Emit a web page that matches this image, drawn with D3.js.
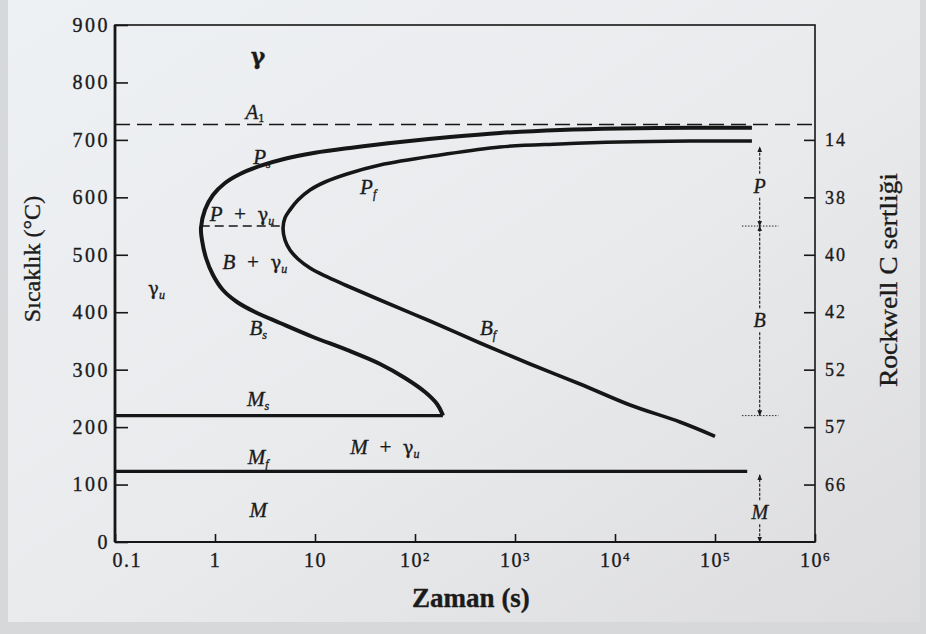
<!DOCTYPE html>
<html>
<head>
<meta charset="utf-8">
<script src="https://cdn.jsdelivr.net/npm/d3@7"></script>
<style>
  body { margin: 0; background: #e3e5e7; }
  svg { display: block; }
  text { font-family: "Liberation Serif", "DejaVu Serif", serif; fill: #1b1b1b;
         stroke: #1b1b1b; stroke-width: 0.35px; }
</style>
</head>
<body>
<svg id="chart" width="926" height="634"></svg>
<script>
// ---- data -------------------------------------------------------------
// time axis (s, logarithmic)
const timeTicks = [0.1, 1, 10, 100, 1e3, 1e4, 1e5, 1e6];
const timeTickLabels = [["0.1"], ["1"], ["10"], ["10", "2"], ["10", "3"], ["10", "4"], ["10", "5"], ["10", "6"]];
// temperature axis (°C)
const tempTicks = [0, 100, 200, 300, 400, 500, 600, 700, 800, 900];
// Rockwell C hardness of the product formed at each temperature
const hardnessTemps = [700, 600, 500, 400, 300, 200, 100];
const hardnessLabels = ["14", "38", "40", "42", "52", "57", "66"];

// transformation start curve (Ps -> nose -> Bs), [time s, temperature °C]
const startCurve = [
  [2.34e5, 721], [56234, 721], [11220, 720], [2818, 717.3], [708, 712], [224, 705],
  [70.8, 696.4], [22.4, 686], [10, 677.6], [5.01, 667.2], [2.82, 654.6], [1.78, 640.7],
  [1.26, 625], [0.955, 604], [0.794, 578.3], [0.724, 546.7],
  [0.741, 525.8], [0.813, 494.4], [0.955, 464.8], [1.2, 438.7], [1.66, 417.8],
  [2.51, 400.4], [4.47, 381.3], [9.55, 356.9], [20.9, 334.3], [44.7, 309.9],
  [79.4, 285.5], [126, 261.1], [166, 240.3], [186, 224.6], [190, 220]
];
// transformation finish curve (Pf -> nose -> Bf)
const finishCurve = [
  [2.34e5, 698.1], [56234, 698], [11220, 696.4], [2818, 692.9], [708, 687.7], [178, 673.7],
  [44.7, 656.3], [20.9, 640.7], [12.6, 626.7], [8.91, 612.8], [6.76, 595.4], [5.62, 578.2],
  [5.01, 564.1], [4.79, 546.7],
  [5.01, 525.8], [5.62, 508.4], [6.76, 492.7], [8.91, 477], [12.6, 463.1], [20, 447.4],
  [44.7, 421.3], [141, 384.7], [447, 346.4], [1413, 309.9], [4467, 275.1], [14125, 238.5],
  [44668, 208.9], [1.0e5, 184]
];
// characteristic temperatures
const A1 = 727, Ms = 220, Mf = 123, noseTemp = 550;
const msLine = [[0.1, Ms], [190, Ms]];
const mfLine = [[0.1, Mf], [2.1e5, Mf]];
const a1Line = [[0.1, A1], [1e6, A1]];
const noseLine = [[0.72, noseTemp], [4.8, noseTemp]];

// product ranges shown beside the curves
const rangeTime = 2.8e5;
const productRanges = [
  { name: "P", from: 688, to: noseTemp, at: 620 },
  { name: "B", from: noseTemp, to: Ms, at: 386 },
  { name: "M", from: 117, to: 0, at: 52 }
];
const rangeMarks = [noseTemp, Ms];

// region labels: [time, temperature, text, subscript]
const regionLabels = [
  [2.7, 844, "γ", ""],
  [2.5, 749, "A", "1"],
  [2.95, 670, "P", "s"],
  [34, 618, "P", "f"],
  [1.86, 571, "P + γ", "u"],
  [2.5, 487, "B + γ", "u"],
  [0.26, 442, "γ", "u"],
  [2.7, 372, "B", "s"],
  [537, 372, "B", "f"],
  [2.7, 249, "M", "s"],
  [50, 165, "M + γ", "u"],
  [2.7, 148, "M", "f"],
  [2.7, 56, "M", ""]
];

// ---- layout -----------------------------------------------------------
const svg = d3.select("#chart");
const W = 926, H = 634;
const plot = { left: 115, right: 815, top: 25, bottom: 542 };
const serif = "'Liberation Serif', 'DejaVu Serif', serif";

const x = d3.scaleLog().domain([0.1, 1e6]).range([plot.left, plot.right]);
const y = d3.scaleLinear().domain([0, 900]).range([plot.bottom, plot.top]);

// paper background
const defs = svg.append("defs");
const grad = defs.append("linearGradient").attr("id", "paper")
  .attr("x1", "0").attr("y1", "0").attr("x2", "1").attr("y2", "1");
grad.append("stop").attr("offset", "0").attr("stop-color", "#eef1f4");
grad.append("stop").attr("offset", "0.55").attr("stop-color", "#e9eaec");
grad.append("stop").attr("offset", "1").attr("stop-color", "#dcdcde");
svg.append("rect").attr("width", W).attr("height", H).attr("fill", "#d6d8da");
svg.append("rect").attr("x", 8).attr("y", 0).attr("width", W - 14).attr("height", H - 12)
  .attr("fill", "url(#paper)");

defs.append("marker").attr("id", "arrow")
  .attr("viewBox", "0 0 10 10").attr("refX", 9).attr("refY", 5)
  .attr("markerWidth", 6).attr("markerHeight", 9).attr("orient", "auto-start-reverse")
  .attr("markerUnits", "userSpaceOnUse")
  .append("path").attr("d", "M0,1 L10,5 L0,9 Z").attr("fill", "#1b1b1b");

const ink = "#161616";
const line = d3.line().x(d => x(d[0])).y(d => y(d[1]));
const smooth = d3.line().x(d => x(d[0])).y(d => y(d[1])).curve(d3.curveCatmullRom.alpha(0.5));

// ---- axes -------------------------------------------------------------
const leftAxis = svg.append("g").attr("transform", `translate(${plot.left},0)`)
  .call(d3.axisLeft(y).tickValues(tempTicks).tickSize(-13).tickPadding(5).tickFormat(d3.format("d")));
leftAxis.selectAll("text").style("font-size", "20px").style("letter-spacing", "2.5px");

const bottomAxis = svg.append("g").attr("transform", `translate(0,${plot.bottom})`)
  .call(d3.axisBottom(x).tickValues(timeTicks).tickSize(-8).tickPadding(11).tickFormat(() => ""));
bottomAxis.selectAll(".tick text").each(function (d, i) {
  const t = d3.select(this).style("font-size", "20px").style("letter-spacing", "1.5px");
  const parts = timeTickLabels[i];
  t.append("tspan").text(parts[0]);
  if (parts[1]) t.append("tspan").attr("dy", "-0.45em").style("font-size", "13px").text(parts[1]);
  if (i === 0) t.attr("text-anchor", "start").attr("x", -3);
});

const rightAxis = svg.append("g").attr("transform", `translate(${plot.right},0)`)
  .call(d3.axisRight(y).tickValues(hardnessTemps).tickSize(-11).tickPadding(10)
    .tickFormat((d, i) => hardnessLabels[i]));
rightAxis.selectAll("text").style("font-size", "18px").style("letter-spacing", "2px");

[leftAxis, bottomAxis, rightAxis].forEach(g => {
  g.attr("font-family", null).attr("font-size", null);
  g.select(".domain").remove();
  g.selectAll(".tick line").attr("stroke", ink).attr("stroke-width", 1.6);
  g.selectAll(".tick text").attr("fill", "#1b1b1b").style("font-family", serif);
});

// frame
svg.append("rect").attr("x", plot.left).attr("y", plot.top)
  .attr("width", plot.right - plot.left).attr("height", plot.bottom - plot.top)
  .attr("fill", "none").attr("stroke", ink).attr("stroke-width", 1.6);
svg.append("line").attr("x1", plot.left).attr("x2", plot.left)
  .attr("y1", plot.top).attr("y2", plot.bottom).attr("stroke", ink).attr("stroke-width", 2.8);
svg.append("line").attr("x1", plot.left).attr("x2", plot.right)
  .attr("y1", plot.bottom).attr("y2", plot.bottom).attr("stroke", ink).attr("stroke-width", 2.2);

// axis titles
svg.append("text").attr("transform", "translate(40,259) rotate(-90)")
  .attr("text-anchor", "middle").style("font-size", "24px").text("Sıcaklık (°C)");
svg.append("text").attr("transform", "translate(897,280) rotate(-90)")
  .attr("text-anchor", "middle").style("font-size", "25px")
  .attr("textLength", 214).attr("lengthAdjust", "spacingAndGlyphs")
  .text("Rockwell C sertliği");
svg.append("text").attr("x", 471).attr("y", 607)
  .attr("text-anchor", "middle").style("font-size", "27px").style("font-weight", "bold")
  .text("Zaman (s)");

// ---- diagram lines ----------------------------------------------------
svg.append("path").attr("d", line(a1Line)).attr("fill", "none")
  .attr("stroke", ink).attr("stroke-width", 1.5).attr("stroke-dasharray", "15,7");
svg.append("path").attr("d", line(noseLine)).attr("fill", "none")
  .attr("stroke", ink).attr("stroke-width", 1.5).attr("stroke-dasharray", "9,5");

svg.append("path").attr("d", smooth(startCurve)).attr("fill", "none")
  .attr("stroke", ink).attr("stroke-width", 4).attr("stroke-linejoin", "round");
svg.append("path").attr("d", smooth(finishCurve)).attr("fill", "none")
  .attr("stroke", ink).attr("stroke-width", 3.6).attr("stroke-linejoin", "round");
svg.append("path").attr("d", line(msLine)).attr("fill", "none")
  .attr("stroke", ink).attr("stroke-width", 3.4);
svg.append("path").attr("d", line(mfLine)).attr("fill", "none")
  .attr("stroke", ink).attr("stroke-width", 3.2);

// product ranges: an arrowed line above and below each italic label
const rx = x(rangeTime);
productRanges.forEach(r => {
  const yl = y(r.at);
  [[yl - 12, y(r.from)], [yl + 12, y(r.to)]].forEach(([a, b]) => {
    svg.append("line").attr("x1", rx).attr("x2", rx).attr("y1", a).attr("y2", b)
      .attr("stroke", ink).attr("stroke-width", 1.1).attr("stroke-dasharray", "3,1.5")
      .attr("marker-end", "url(#arrow)");
  });
  svg.append("text").attr("x", rx).attr("y", yl + 7).attr("text-anchor", "middle")
    .style("font-size", "20px").style("font-style", "italic").text(r.name);
});
rangeMarks.forEach(t => {
  svg.append("line").attr("x1", x(1.86e5)).attr("x2", x(4.3e5))
    .attr("y1", y(t)).attr("y2", y(t)).attr("stroke", ink).attr("stroke-width", 0.9)
    .attr("stroke-dasharray", "1.5,1.5");
});

// region labels (Latin letters italic, γ in a serif face with a looped tail)
regionLabels.forEach(([t, T, main, sub]) => {
  const txt = svg.append("text").attr("x", x(t)).attr("y", y(T) + 7)
    .attr("text-anchor", "middle").style("font-size", "21px")
    .attr("xml:space", "preserve");
  main.replace(/ \+ /g, "  +  ").split(/(γ)/).filter(s => s.length).forEach(part => {
    const sp = txt.append("tspan").style("font-style", "italic").text(part);
    if (part === "γ") {
      sp.style("font-family", "'DejaVu Serif', serif").style("font-style", "normal")
        .style("font-size", main === "γ" && !sub ? "22px" : "18px");
      if (main === "γ" && !sub) sp.style("font-weight", "bold");
    }
  });
  if (sub) txt.append("tspan").attr("dy", "0.3em").style("font-size", "12px")
    .style("font-style", sub === "1" ? "normal" : "italic").text(sub);
});
</script>
</body>
</html>
